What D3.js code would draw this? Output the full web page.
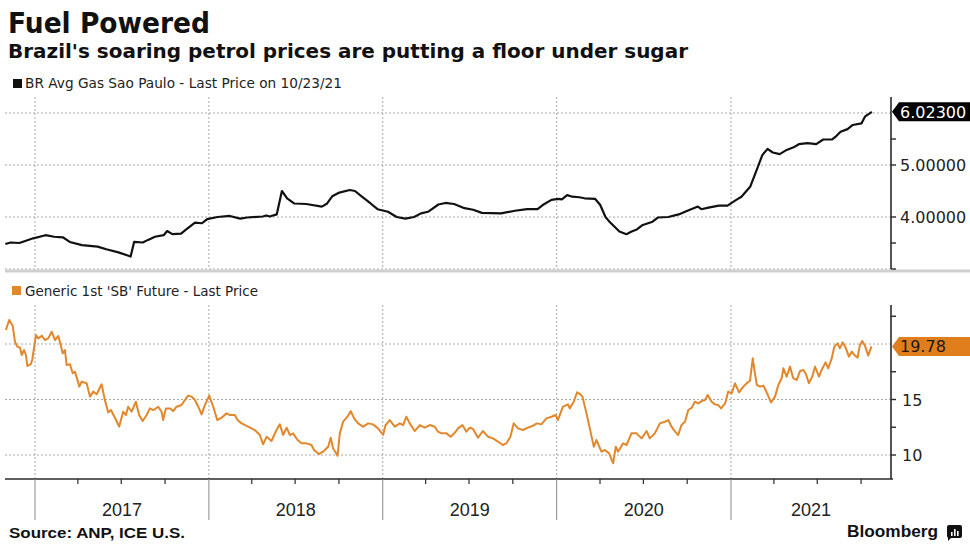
<!DOCTYPE html>
<html><head><meta charset="utf-8">
<script src="https://cdn.jsdelivr.net/npm/d3@7"></script>
<style>
html,body{margin:0;padding:0;background:#fff;}
svg{display:block;}
</style></head>
<body>
<svg id="c" width="970" height="550"></svg>
<script>
// ---------- DATA ----------
const titleText = "Fuel Powered";
const subtitleText = "Brazil's soaring petrol prices are putting a floor under sugar";
const gasLegend = "BR Avg Gas Sao Paulo - Last Price on 10/23/21";
const sugarLegend = "Generic 1st 'SB' Future - Last Price";
const sourceText = "Source: ANP, ICE U.S.";
const yearLabels = ["2017","2018","2019","2020","2021"];

// decimal years
const gasTime = [2016.83,2016.86,2016.91,2016.99,
2017.06,2017.11,2017.16,2017.20,2017.27,2017.33,2017.36,2017.41,2017.48,2017.55,2017.57,2017.62,2017.65,2017.69,2017.74,2017.76,2017.79,2017.84,2017.87,2017.92,2017.96,2017.99,
2018.05,2018.12,2018.18,2018.22,2018.31,2018.33,2018.35,2018.39,2018.42,2018.45,2018.49,2018.56,2018.65,2018.68,2018.71,2018.75,2018.81,2018.84,2018.88,2018.93,2018.97,
2019.03,2019.08,2019.13,2019.18,2019.22,2019.26,2019.32,2019.36,2019.41,2019.47,2019.52,2019.57,2019.68,2019.76,2019.83,2019.89,2019.92,2019.97,
2020.01,2020.03,2020.06,2020.09,2020.13,2020.16,2020.22,2020.25,2020.28,2020.30,2020.36,2020.40,2020.43,2020.46,2020.49,2020.55,2020.58,2020.64,2020.70,2020.75,2020.81,2020.83,2020.87,2020.93,2020.98,
2021.03,2021.06,2021.11,2021.14,2021.18,2021.21,2021.24,2021.28,2021.32,2021.36,2021.39,2021.44,2021.49,2021.53,2021.58,2021.60,2021.63,2021.67,2021.70,2021.75,2021.77,2021.81];
const gasValue = [3.48,3.51,3.50,3.59,
3.65,3.62,3.61,3.52,3.46,3.44,3.43,3.38,3.32,3.24,3.52,3.51,3.56,3.62,3.65,3.73,3.67,3.68,3.76,3.89,3.88,3.96,
4.00,4.02,3.97,3.99,4.01,4.03,4.01,4.05,4.50,4.36,4.26,4.25,4.20,4.26,4.40,4.47,4.52,4.50,4.39,4.26,4.15,
4.10,4.00,3.97,4.00,4.07,4.10,4.24,4.27,4.25,4.17,4.14,4.08,4.07,4.12,4.15,4.15,4.23,4.33,
4.35,4.34,4.42,4.39,4.38,4.36,4.35,4.23,4.00,3.92,3.72,3.67,3.72,3.76,3.84,3.91,3.99,4.00,4.05,4.12,4.20,4.15,4.18,4.22,4.22,
4.33,4.39,4.58,4.84,5.19,5.31,5.24,5.21,5.29,5.34,5.40,5.42,5.40,5.49,5.49,5.54,5.64,5.69,5.77,5.80,5.93,6.023];

const sugarTime = [2016.833,2016.852,2016.872,2016.885,2016.898,2016.914,2016.924,2016.937,2016.948,2016.956,2016.975,2016.984,
2017.006,2017.019,2017.039,2017.057,2017.076,2017.096,2017.115,2017.134,2017.148,2017.159,2017.172,2017.182,2017.201,2017.217,2017.230,2017.255,2017.268,2017.297,2017.316,2017.335,2017.355,2017.383,2017.402,2017.421,2017.437,2017.466,2017.484,2017.507,2017.523,2017.536,2017.556,2017.580,2017.599,2017.619,2017.642,2017.661,2017.680,2017.709,2017.728,2017.737,2017.753,2017.776,2017.795,2017.814,2017.843,2017.862,2017.881,2017.901,2017.920,2017.939,2017.958,2017.977,
2018.002,2018.025,2018.048,2018.073,2018.102,2018.121,2018.149,2018.165,2018.188,2018.226,2018.264,2018.293,2018.312,2018.332,2018.360,2018.389,2018.408,2018.427,2018.447,2018.466,2018.484,2018.510,2018.533,2018.561,2018.590,2018.605,2018.632,2018.657,2018.686,2018.701,2018.714,2018.740,2018.753,2018.772,2018.797,2018.816,2018.835,2018.858,2018.887,2018.916,2018.944,2018.973,
2019.002,2019.016,2019.040,2019.069,2019.098,2019.117,2019.136,2019.155,2019.184,2019.213,2019.241,2019.270,2019.299,2019.318,2019.337,2019.366,2019.391,2019.414,2019.433,2019.458,2019.481,2019.500,2019.519,2019.548,2019.576,2019.605,2019.634,2019.663,2019.691,2019.711,2019.734,2019.753,2019.778,2019.806,2019.835,2019.864,2019.887,2019.912,2019.941,2019.970,2019.994,
2020.007,2020.036,2020.065,2020.075,2020.098,2020.117,2020.136,2020.148,2020.171,2020.190,2020.213,2020.228,2020.257,2020.276,2020.301,2020.324,2020.339,2020.352,2020.381,2020.401,2020.429,2020.458,2020.487,2020.516,2020.534,2020.563,2020.592,2020.621,2020.640,2020.659,2020.678,2020.697,2020.716,2020.736,2020.755,2020.774,2020.793,2020.812,2020.832,2020.851,2020.866,2020.889,2020.908,2020.927,2020.943,2020.966,2020.984,
2021.004,2021.023,2021.046,2021.071,2021.096,2021.109,2021.125,2021.136,2021.148,2021.167,2021.186,2021.205,2021.230,2021.253,2021.272,2021.291,2021.301,2021.320,2021.339,2021.358,2021.378,2021.397,2021.416,2021.431,2021.448,2021.467,2021.483,2021.506,2021.521,2021.544,2021.559,2021.579,2021.594,2021.613,2021.626,2021.642,2021.659,2021.678,2021.694,2021.713,2021.728,2021.741,2021.755,2021.770,2021.789,2021.808];
const sugarValue = [21.26,22.16,21.65,20.21,19.76,19.67,19.01,19.46,19.01,18.02,18.17,18.56,
20.81,20.51,20.75,20.36,20.51,21.11,20.36,20.72,19.91,19.16,19.46,18.11,18.17,17.36,17.51,16.16,16.61,16.46,15.26,15.71,15.47,16.37,14.95,13.84,14.05,13.15,12.55,13.90,13.60,14.35,13.90,14.80,13.60,13.06,13.60,14.20,14.05,14.35,13.90,13.15,14.20,14.20,13.96,14.35,14.50,14.95,15.35,15.26,14.95,14.35,13.66,14.50,
15.35,14.35,13.15,13.36,13.75,13.60,13.60,13.15,12.85,12.55,12.25,11.80,10.96,11.65,11.26,12.25,12.76,11.80,12.46,11.80,11.95,11.35,11.05,11.05,10.90,10.45,10.09,10.30,10.75,11.56,10.60,9.94,11.95,13.00,13.45,13.96,13.30,12.85,12.55,12.85,12.76,12.40,
11.80,12.70,13.15,12.55,12.85,12.70,13.45,12.85,12.16,12.70,12.46,12.70,12.55,12.10,11.95,11.95,11.65,12.00,12.40,12.70,12.10,12.46,12.34,11.56,12.16,11.65,11.50,11.20,10.90,11.05,11.65,12.85,12.40,12.25,12.46,12.64,12.85,12.76,13.30,13.45,13.60,
13.15,14.35,14.56,14.20,14.80,15.65,15.47,15.26,13.75,12.40,10.75,11.35,10.30,10.45,10.15,9.25,10.75,10.30,11.05,10.90,11.95,11.95,11.50,12.16,11.50,11.95,12.85,13.00,13.15,12.55,12.13,11.80,12.70,13.00,14.05,14.26,14.80,14.65,14.86,14.95,15.41,14.80,14.56,14.50,14.20,14.65,15.71,
15.56,16.46,15.65,16.16,16.55,16.67,18.71,17.51,16.31,16.16,16.25,15.65,14.74,15.26,16.31,16.91,17.81,17.06,17.96,16.91,16.76,17.57,17.66,17.27,16.46,17.06,17.96,17.06,17.66,18.35,17.81,18.71,19.76,20.06,19.61,20.15,19.67,18.86,19.31,18.95,18.77,19.91,20.27,19.85,18.95,19.78];

const gasLast = 6.023, sugarLast = 19.78;
const gasTickLabels = [4, 5];
const gasMinorTicks = [3, 3.5, 5.5];
const gasGrid = [3, 4, 5, 6];
const sugarTickLabels = [10, 15];
const sugarMinorTicks = [12.5, 17.5, 22.5];
const sugarGrid = [10, 15, 20];
const timeDomain = [2016.828, 2021.92];

// ---------- HELPERS ----------
function fromDecimal(t){
  const y = Math.floor(t);
  const a = Date.UTC(y,0,1), b = Date.UTC(y+1,0,1);
  return new Date(a + (t-y)*(b-a));
}
const gasData = gasTime.map((t,i)=>({d:fromDecimal(t), v:gasValue[i]}));
const sugarData = sugarTime.map((t,i)=>({d:fromDecimal(t), v:sugarValue[i]}));

const svg = d3.select("#c");
const L = 5, R = 891;
const x = d3.scaleUtc().domain(timeDomain.map(fromDecimal)).range([L, R]);
const yG = d3.scaleLinear().domain([3, 6]).range([269, 113]);
const yS = d3.scaleLinear().domain([10, 20]).range([455, 344]);
const ORANGE = "#e3872c";
const NUM_FONT = "'DejaVu Sans', Verdana, sans-serif";
const ARIAL = "'Liberation Sans', Arial, sans-serif";

// ---------- TITLES ----------
svg.append("text").attr("x",8).attr("y",33).attr("font-family",NUM_FONT)
  .attr("font-weight","bold").attr("font-size",29).attr("fill","#111")
  .attr("textLength",202).attr("lengthAdjust","spacingAndGlyphs").text(titleText);
svg.append("text").attr("x",8).attr("y",58).attr("font-family",NUM_FONT)
  .attr("font-weight","bold").attr("font-size",20).attr("fill","#111")
  .attr("textLength",680).attr("lengthAdjust","spacingAndGlyphs").text(subtitleText);

// legends
svg.append("rect").attr("x",13).attr("y",79).attr("width",9).attr("height",9).attr("fill","#111");
svg.append("text").attr("x",25).attr("y",88).attr("font-family",NUM_FONT).attr("font-size",14)
  .attr("fill","#222").attr("textLength",317).attr("lengthAdjust","spacingAndGlyphs").text(gasLegend);
svg.append("rect").attr("x",12).attr("y",286).attr("width",9).attr("height",9).attr("fill",ORANGE);
svg.append("text").attr("x",25).attr("y",296).attr("font-family",NUM_FONT).attr("font-size",14)
  .attr("fill","#222").attr("textLength",233).attr("lengthAdjust","spacingAndGlyphs").text(sugarLegend);

// ---------- GRIDS ----------
const years = [2017,2018,2019,2020,2021].map(y=>new Date(Date.UTC(y,0,1)));
const gridStyle = s => s.attr("stroke","#a8a8a8").attr("stroke-width",1).attr("stroke-dasharray","2,2");

// top panel
svg.append("g").selectAll("line").data(gasGrid).join("line")
  .attr("x1",L).attr("x2",R).attr("y1",d=>yG(d)).attr("y2",d=>yG(d)).call(gridStyle);
svg.append("g").selectAll("line").data(years).join("line")
  .attr("x1",d=>x(d)).attr("x2",d=>x(d)).attr("y1",97).attr("y2",269).call(gridStyle);
// bottom panel
svg.append("g").selectAll("line").data(sugarGrid).join("line")
  .attr("x1",L).attr("x2",R).attr("y1",d=>yS(d)).attr("y2",d=>yS(d)).call(gridStyle);
svg.append("g").selectAll("line").data(years).join("line")
  .attr("x1",d=>x(d)).attr("x2",d=>x(d)).attr("y1",305).attr("y2",479).call(gridStyle);

// separator
svg.append("line").attr("x1",L).attr("x2",970).attr("y1",271).attr("y2",271)
  .attr("stroke","#cfcfcf").attr("stroke-width",3);

// ---------- LINES ----------
svg.append("path").datum(gasData)
  .attr("d", d3.line().x(d=>x(d.d)).y(d=>yG(d.v)))
  .attr("fill","none").attr("stroke","#111").attr("stroke-width",2.2).attr("stroke-linejoin","round");
svg.append("path").datum(sugarData)
  .attr("d", d3.line().x(d=>x(d.d)).y(d=>yS(d.v)))
  .attr("fill","none").attr("stroke",ORANGE).attr("stroke-width",2).attr("stroke-linejoin","round");

// ---------- RIGHT AXES ----------
const axisColor = "#2a2a2a";
// top
svg.append("line").attr("x1",R).attr("x2",R).attr("y1",97).attr("y2",269).attr("stroke",axisColor).attr("stroke-width",1.6);
svg.append("g").selectAll("line").data(gasMinorTicks.concat(gasTickLabels)).join("line")
  .attr("x1",R).attr("x2",R+5).attr("y1",d=>yG(d)).attr("y2",d=>yG(d)).attr("stroke",axisColor).attr("stroke-width",1.4);
svg.append("g").selectAll("text").data(gasTickLabels).join("text")
  .attr("x",900).attr("y",d=>yG(d)+6).attr("font-family",NUM_FONT).attr("font-size",16).attr("fill","#222")
  .text(d=>d3.format(".5f")(d));
// bottom
svg.append("line").attr("x1",R).attr("x2",R).attr("y1",305).attr("y2",479).attr("stroke",axisColor).attr("stroke-width",1.6);
svg.append("g").selectAll("line").data(sugarMinorTicks.concat(sugarTickLabels)).join("line")
  .attr("x1",R).attr("x2",R+5).attr("y1",d=>yS(d)).attr("y2",d=>yS(d)).attr("stroke",axisColor).attr("stroke-width",1.4);
svg.append("g").selectAll("text").data(sugarTickLabels).join("text")
  .attr("x",902).attr("y",d=>yS(d)+6).attr("font-family",NUM_FONT).attr("font-size",16).attr("fill","#222")
  .text(d=>d);

// value flags
function flag(cy, fill, txt, txtColor){
  const p = d3.path();
  p.moveTo(892, cy); p.lineTo(899, cy-9.5); p.lineTo(970, cy-9.5); p.lineTo(970, cy+9.5); p.lineTo(899, cy+9.5); p.closePath();
  svg.append("path").attr("d", p.toString()).attr("fill", fill);
  svg.append("text").attr("x",900).attr("y",cy+6).attr("font-family",NUM_FONT).attr("font-size",16)
    .attr("fill",txtColor).text(txt);
}
flag(yG(gasLast), "#000", d3.format(".5f")(gasLast), "#fff");
flag(yS(sugarLast), "#e07d1c", d3.format(".2f")(sugarLast), "#1a1a1a");

// ---------- X AXIS ----------
svg.append("line").attr("x1",L).attr("x2",R+2).attr("y1",479).attr("y2",479).attr("stroke",axisColor).attr("stroke-width",1.6);
const quarters = d3.utcMonth.every(3).range(x.domain()[0], x.domain()[1]).filter(d=>d.getUTCMonth()!==0);
svg.append("g").selectAll("line").data(quarters).join("line")
  .attr("x1",d=>x(d)).attr("x2",d=>x(d)).attr("y1",479).attr("y2",484).attr("stroke",axisColor).attr("stroke-width",1.2);
svg.append("g").selectAll("line").data(years).join("line")
  .attr("x1",d=>x(d)).attr("x2",d=>x(d)).attr("y1",479).attr("y2",520).attr("stroke","#8a8a8a").attr("stroke-width",1);
svg.append("g").selectAll("text").data(yearLabels).join("text")
  .attr("x",(d,i)=>{ const a = x(years[i]); const b = Math.min(R, x(new Date(Date.UTC(+d+1,0,1)))); return (a+b)/2; })
  .attr("y",516).attr("text-anchor","middle").attr("font-family",ARIAL).attr("font-size",18).attr("fill","#222")
  .text(d=>d);

// ---------- FOOTER ----------
svg.append("text").attr("x",9).attr("y",538).attr("font-family",ARIAL).attr("font-weight","bold")
  .attr("font-size",14).attr("fill","#111").attr("textLength",176).attr("lengthAdjust","spacingAndGlyphs").text(sourceText);
svg.append("text").attr("x",847).attr("y",537).attr("font-family",ARIAL).attr("font-weight","bold")
  .attr("font-size",17).attr("fill","#111").attr("textLength",91).attr("lengthAdjust","spacingAndGlyphs").text("Bloomberg");
// logo
const lg = svg.append("g");
lg.append("rect").attr("x",947).attr("y",525).attr("width",15).attr("height",13).attr("rx",2).attr("fill","#111");
lg.append("path").attr("d","M948,536 L953,536 L948,541 Z").attr("fill","#111");
[[951,532,1.6,4],[954,529,1.6,7],[957,531,1.6,5]].forEach(b=>{
  lg.append("rect").attr("x",b[0]).attr("y",b[1]).attr("width",b[2]).attr("height",b[3]).attr("fill","#fff");
});
</script>
</body></html>
